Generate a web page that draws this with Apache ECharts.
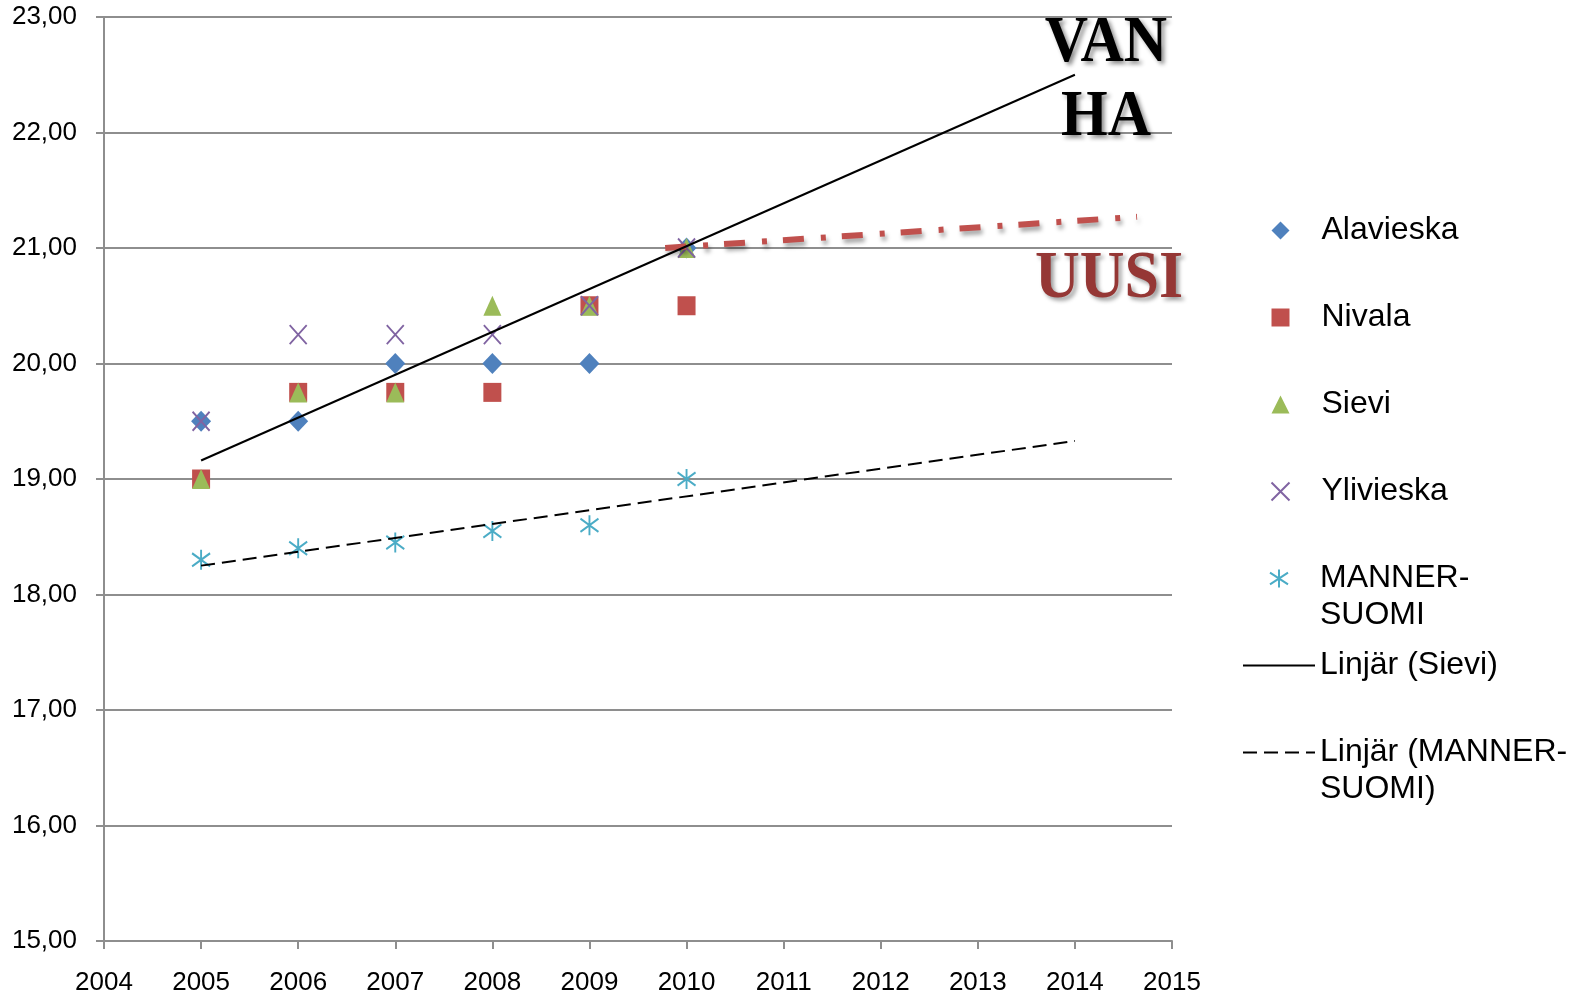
<!DOCTYPE html>
<html>
<head>
<meta charset="utf-8">
<title>Alavieska, Nivala, Sievi, Ylivieska, Manner-Suomi</title>
<script src="https://cdn.jsdelivr.net/npm/echarts@6/dist/echarts.min.js"></script>
<style>
  html, body { margin: 0; padding: 0; background: #fff; }
  #chart { width: 1576px; height: 994px; }
</style>
</head>
<body>
<div id="chart"></div>
<script>
// data
let years = [2005, 2006, 2007, 2008, 2009, 2010];
let alavieska = [19.5, 19.5, 20.0, 20.0, 20.0, 21.0];
let nivala = [19.0, 19.75, 19.75, 19.75, 20.5, 20.5];
let sievi = [19.0, 19.75, 19.75, 20.5, 20.5, 21.0];
let ylivieska = [19.5, 20.25, 20.25, 20.25, 20.5, 21.0];
let mannerSuomi = [18.3, 18.4, 18.45, 18.55, 18.6, 19.0];

// trend line end points (linear, as drawn)
let trendSievi = [[2005, 19.16], [2014, 22.5]];
let trendManner = [[2005, 18.25], [2014, 19.33]];
// hand drawn "UUSI" line
let uusiLine = [[2009.78, 21.0], [2014.64, 21.27]];

let colors = ['#4f81bd', '#c0504d', '#9bbb59', '#8064a2', '#4bacc6'];

function pairs(vals) {
    let out = [];
    for (let i = 0; i < years.length; i++) {
        out.push([years[i], vals[i]]);
    }
    return out;
}

let font = '"Liberation Sans", Arial, sans-serif';
let serif = '"Liberation Serif", "Times New Roman", serif';
let gridColor = '#8e8e8e';

let noIcon = { color: 'none', borderWidth: 0 };

function makeLegend(left, top, gap, data, wrap) {
    return {
        orient: 'vertical',
        left: left,
        top: top,
        itemWidth: 72,
        itemHeight: 18,
        itemGap: gap,
        symbolKeepAspect: true,
        selectedMode: false,
        data: data,
        formatter: function (name) {
            // long names wrap; the first line stays level with the icon
            if (wrap && name.indexOf('-') > 0) {
                return '\n' + name.replace('-', '-\n');
            }
            return name;
        },
        textStyle: {
            fontFamily: font,
            fontSize: 32,
            color: '#000',
            lineHeight: 37
        }
    };
}

let option = {
    animation: false,
    backgroundColor: '#fff',
    grid: { left: 104, right: 404, top: 17, bottom: 53, outerBoundsMode: 'none' },
    legend: [
        makeLegend(1264, 207, 50, [
            { name: 'Alavieska' },
            { name: 'Nivala' },
            { name: 'Sievi' },
            { name: 'Ylivieska' }
        ], false),
        makeLegend(1237, 518, 13, [
            { name: 'MANNER-SUOMI' },
            { name: 'Linjär (Sievi)', itemStyle: noIcon },
            { name: 'Linjär (MANNER-SUOMI)', itemStyle: noIcon }
        ], true)
    ],
    xAxis: {
        type: 'value',
        min: 2004,
        max: 2015,
        interval: 1,
        axisLine: { lineStyle: { color: gridColor, width: 2 } },
        axisTick: { length: 8, lineStyle: { color: gridColor, width: 2 } },
        axisLabel: {
            margin: 29,
            color: '#000',
            fontFamily: font,
            fontSize: 26,
            formatter: function (v) { return String(v); }
        },
        splitLine: { show: false }
    },
    yAxis: {
        type: 'value',
        min: 15,
        max: 23,
        interval: 1,
        axisLine: { show: true, lineStyle: { color: gridColor, width: 2 } },
        axisTick: { show: true, length: 8, lineStyle: { color: gridColor, width: 2 } },
        axisLabel: {
            margin: 27,
            color: '#000',
            fontFamily: font,
            fontSize: 26,
            formatter: function (v) { return v.toFixed(2).replace('.', ','); }
        },
        splitLine: { lineStyle: { color: gridColor, width: 2 } }
    },
    graphic: [
        {
            type: 'text',
            x: 1106,
            y: 81,
            scaleY: 1.1,
            z: 100,
            style: {
                text: 'VAN\nHA',
                fontFamily: serif,
                fontWeight: 'bold',
                fontSize: 60,
                lineHeight: 68,
                fill: '#000',
                align: 'center',
                verticalAlign: 'middle',
                textShadowColor: 'rgba(0,0,0,0.45)',
                textShadowBlur: 4,
                textShadowOffsetX: 3,
                textShadowOffsetY: 3
            }
        },
        {
            type: 'text',
            x: 1109,
            y: 279,
            scaleY: 1.1,
            z: 100,
            style: {
                text: 'UUSI',
                fontFamily: serif,
                fontWeight: 'bold',
                fontSize: 62,
                fill: '#953735',
                align: 'center',
                verticalAlign: 'middle',
                textShadowColor: 'rgba(0,0,0,0.4)',
                textShadowBlur: 4,
                textShadowOffsetX: 3,
                textShadowOffsetY: 3
            }
        }
    ],
    series: [
        {
            name: 'Alavieska', type: 'scatter',
            symbol: 'path://M5,0L10,5L5,10L0,5Z', symbolSize: [20, 21],
            itemStyle: { color: colors[0], opacity: 1 },
            data: pairs(alavieska)
        },
        {
            name: 'Nivala', type: 'scatter',
            symbol: 'path://M0,0H10V10H0Z', symbolSize: [18, 19],
            itemStyle: { color: colors[1], opacity: 1 },
            data: pairs(nivala)
        },
        {
            name: 'Sievi', type: 'scatter',
            symbol: 'path://M5,0L10,10H0Z', symbolSize: [18, 20],
            itemStyle: { color: colors[2], opacity: 1 },
            data: pairs(sievi)
        },
        {
            name: 'Ylivieska', type: 'scatter',
            symbol: 'path://M0,0L10,10M10,0L0,10', symbolSize: [17, 19],
            itemStyle: { color: 'none', borderColor: colors[3], borderWidth: 2, opacity: 1 },
            data: pairs(ylivieska)
        },
        {
            name: 'MANNER-SUOMI', type: 'scatter',
            symbol: 'path://M5,0V10M0,1.7L10,8.3M10,1.7L0,8.3', symbolSize: [18, 20],
            itemStyle: { color: 'none', borderColor: colors[4], borderWidth: 2, opacity: 1 },
            data: pairs(mannerSuomi)
        },
        {
            name: 'uusi', type: 'line',
            symbol: 'none',
            silent: true,
            lineStyle: {
                color: '#c0504d', width: 6, type: [21, 17, 5, 16],
                shadowColor: 'rgba(0,0,0,0.35)', shadowBlur: 4,
                shadowOffsetX: 2, shadowOffsetY: 4
            },
            data: uusiLine
        },
        {
            name: 'Linjär (Sievi)', type: 'line',
            symbol: 'none',
            lineStyle: { color: '#000', width: 2 },
            data: trendSievi
        },
        {
            name: 'Linjär (MANNER-SUOMI)', type: 'line',
            symbol: 'none',
            lineStyle: { color: '#000', width: 2, type: [14, 7] },
            data: trendManner
        }
    ]
};

let myChart = echarts.init(document.getElementById('chart'), null, { renderer: 'canvas' });
myChart.setOption(option);
</script>
</body>
</html>
